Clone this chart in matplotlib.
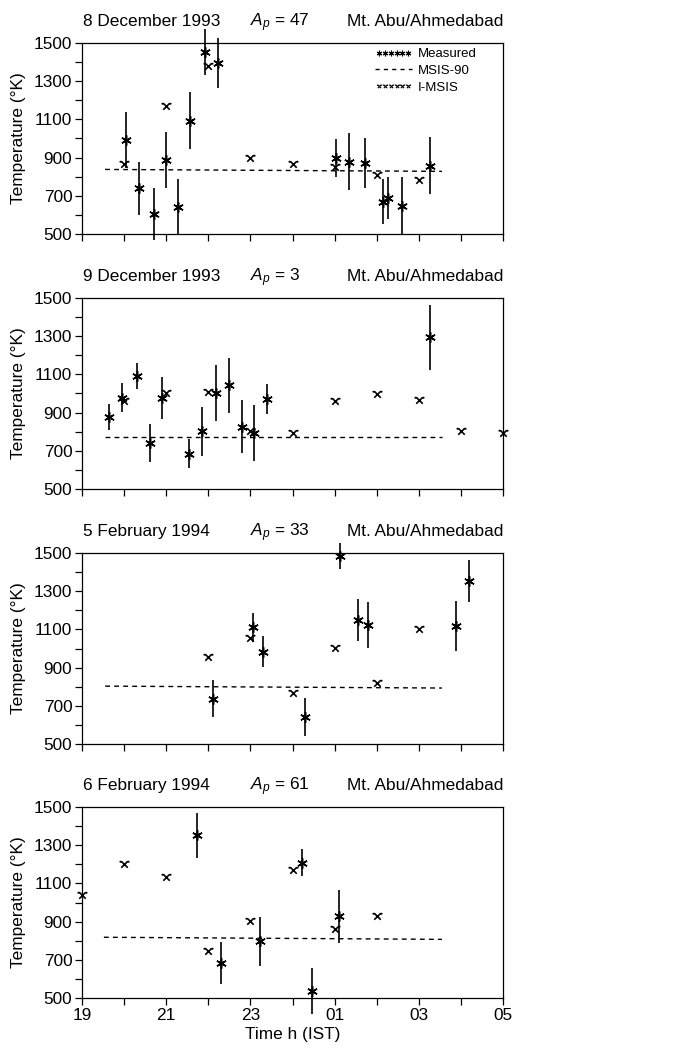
import matplotlib.pyplot as plt
from matplotlib.path import Path
from matplotlib.lines import Line2D
from matplotlib.legend_handler import HandlerLine2D
from matplotlib.ticker import MultipleLocator

plt.rcParams['font.family'] = ['Liberation Sans', 'DejaVu Sans']
plt.rcParams['mathtext.fontset'] = 'custom'
plt.rcParams['mathtext.rm'] = 'Liberation Sans'
plt.rcParams['mathtext.it'] = 'Liberation Sans:italic'

# hours after 19 h IST
dates = ['8 December 1993', '9 December 1993', '5 February 1994', '6 February 1994']
ap_vals = [47, 3, 33, 61]

# measured temperatures with error bars
meas_t = [
    [1.05, 1.36, 1.70, 1.99, 2.27, 2.57, 2.92, 3.22, 6.03, 6.35, 6.73, 7.16, 7.28, 7.60, 8.27],
    [0.64, 0.94, 1.30, 1.62, 1.89, 2.55, 2.84, 3.19, 3.49, 3.81, 4.09, 4.39, 8.26],
    [3.10, 4.05, 4.29, 5.30, 6.13, 6.55, 6.79, 8.88, 9.20],
    [2.73, 3.30, 4.23, 5.22, 5.46, 6.11],
]
meas_T = [
    [993, 740, 603, 888, 640, 1093, 1453, 1395, 897, 879, 870, 670, 690, 647, 857],
    [879, 979, 1091, 740, 976, 684, 802, 1002, 1042, 827, 792, 972, 1295],
    [737, 1111, 984, 640, 1484, 1149, 1125, 1119, 1351],
    [1353, 681, 796, 1209, 537, 928],
]
meas_err = [
    [148, 138, 137, 148, 147, 150, 120, 130, 100, 150, 130, 120, 110, 150, 150],
    [68, 78, 70, 98, 108, 76, 128, 148, 146, 138, 148, 79, 170],
    [98, 75, 80, 100, 70, 110, 120, 130, 110],
    [118, 110, 130, 70, 120, 140],
]

# I-MSIS model values
imsis_t = [
    [1, 2, 3, 4, 5, 6, 7, 8],
    [1, 2, 3, 4, 5, 6, 7, 8, 9, 10],
    [3, 4, 5, 6, 7, 8],
    [0, 1, 2, 3, 4, 5, 6, 7],
]
imsis_T = [
    [867, 1168, 1378, 900, 865, 853, 809, 783],
    [963, 1002, 1007, 802, 792, 962, 998, 967, 802, 792],
    [956, 1054, 765, 1005, 818, 1102],
    [1037, 1204, 1133, 747, 905, 1168, 861, 928],
]

# MSIS-90 line (start, end)
msis_t = [[0.55, 8.55], [0.55, 8.55], [0.55, 8.55], [0.52, 8.55]]
msis_T = [[838, 828], [770, 770], [803, 793], [818, 807]]

xtick_labels = ['19', '21', '23', '01', '03', '05']
ytick_vals = [500, 700, 900, 1100, 1300, 1500]

# I-MSIS marker: a cross with small hooks at the upper ends
verts = [(-1, -1), (1, 1), (1, 1), (1.5, 0.7),
         (-1, 1), (1, -1), (-1, 1), (-1.5, 0.7)]
codes = [Path.MOVETO, Path.LINETO, Path.MOVETO, Path.LINETO,
         Path.MOVETO, Path.LINETO, Path.MOVETO, Path.LINETO]
imsis_marker = Path(verts, codes)
meas_marker = (6, 2, 0)

fig = plt.figure(figsize=(6.78, 10.61), dpi=100)
tops = [43, 298, 553, 807]
h_px = 191
axes = []
for i in range(4):
    bottom = 1 - (tops[i] + h_px) / 1061
    ax = fig.add_axes([82 / 678, bottom, 421 / 678, h_px / 1061])
    axes.append(ax)

FS = 12.4

for i, ax in enumerate(axes):
    ax.plot(msis_t[i], msis_T[i], color='black', lw=1.0, ls=(0, (3.5, 3)))
    ax.errorbar(meas_t[i], meas_T[i], yerr=meas_err[i], fmt='none',
                ecolor='black', elinewidth=1.2, capsize=0, clip_on=False)
    ax.plot(meas_t[i], meas_T[i], ls='none', marker=meas_marker, ms=7.5,
            mec='black', mfc='black', mew=1.1, clip_on=False)
    ax.plot(imsis_t[i], imsis_T[i], ls='none', marker=imsis_marker, ms=7,
            mec='black', mfc='none', mew=1.2, clip_on=False)

    ax.set_xlim(0, 10)
    ax.set_ylim(500, 1500)
    ax.xaxis.set_major_locator(MultipleLocator(2))
    ax.xaxis.set_minor_locator(MultipleLocator(1))
    ax.set_yticks(ytick_vals)
    ax.yaxis.set_minor_locator(MultipleLocator(100))
    ax.tick_params(which='both', direction='out', length=5, width=0.9,
                   labelsize=FS, pad=2)
    for sp in ax.spines.values():
        sp.set_linewidth(0.9)
    ax.set_ylabel('Temperature (°K)', fontsize=FS, labelpad=6)
    if i < 3:
        ax.set_xticklabels([])
    else:
        ax.set_xticks([0, 2, 4, 6, 8, 10])
        ax.set_xticklabels(xtick_labels)
        ax.set_xlabel('Time h (IST)', fontsize=FS, labelpad=3)

    ax.text(0.003, 1.09, dates[i], transform=ax.transAxes, ha='left',
            va='baseline', fontsize=FS)
    ax.text(0.40, 1.09, '$A_p$ = %d' % ap_vals[i], transform=ax.transAxes,
            ha='left', va='baseline', fontsize=FS)
    ax.text(1.0, 1.09, 'Mt. Abu/Ahmedabad', transform=ax.transAxes,
            ha='right', va='baseline', fontsize=FS)

# legend in first panel
h1 = Line2D([], [], ls='none', marker=meas_marker, ms=4, mec='black', mew=0.8)
h2 = Line2D([], [], color='black', lw=1.0, ls=(0, (3, 3)))
h3 = Line2D([], [], ls='none', marker=imsis_marker, ms=3.6, mec='black', mfc='none', mew=0.8)
axes[0].legend([h1, h2, h3], ['Measured', 'MSIS-90', 'I-MSIS'],
               loc='upper right', bbox_to_anchor=(0.938, 0.974),
               frameon=False, fontsize=9.5, borderpad=0, borderaxespad=0,
               handlelength=2.8, handletextpad=0.45, labelspacing=0.35,
               handler_map={h1: HandlerLine2D(numpoints=6),
                            h3: HandlerLine2D(numpoints=6)})

fig.savefig('out.png', dpi=100)
